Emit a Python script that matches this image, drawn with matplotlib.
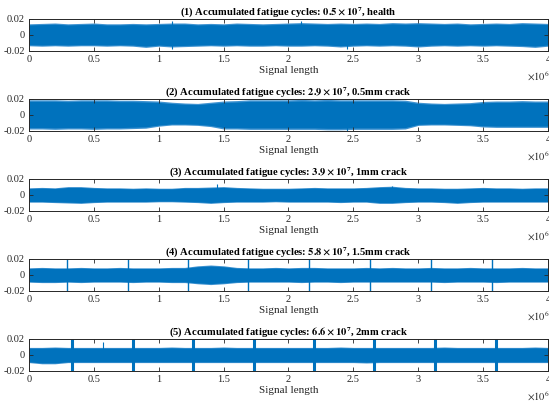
import numpy as np
import matplotlib
matplotlib.use("Agg")
import matplotlib.pyplot as plt

# ---------------- data ----------------
x_env = [i / 10 for i in range(41)]  # signal position, units of 1e6 samples

up1 = [0.014, 0.0145, 0.015, 0.014, 0.0145, 0.015, 0.014, 0.014, 0.0145, 0.014,
       0.0145, 0.015, 0.015, 0.014, 0.0145, 0.014, 0.015, 0.0145, 0.014, 0.0145,
       0.015, 0.0155, 0.015, 0.0145, 0.015, 0.0145, 0.015, 0.0145, 0.0155, 0.015,
       0.0155, 0.015, 0.0145, 0.015, 0.014, 0.0145, 0.015, 0.0145, 0.0155, 0.015, 0.0145]
lo1 = [-0.0135, -0.014, -0.0135, -0.014, -0.0135, -0.0135, -0.014, -0.0135, -0.014, -0.0155,
       -0.014, -0.015, -0.0145, -0.014, -0.0135, -0.014, -0.0135, -0.014, -0.014, -0.0135,
       -0.014, -0.014, -0.0135, -0.014, -0.015, -0.014, -0.0135, -0.014, -0.0135, -0.014,
       -0.015, -0.014, -0.0135, -0.014, -0.0135, -0.014, -0.0135, -0.014, -0.0145, -0.0155, -0.014]

up2 = [0.019, 0.019, 0.019, 0.0185, 0.019, 0.019, 0.019, 0.0185, 0.0185, 0.018,
       0.0175, 0.016, 0.015, 0.0145, 0.016, 0.0175, 0.018, 0.019, 0.019, 0.019,
       0.019, 0.0195, 0.019, 0.0195, 0.019, 0.019, 0.019, 0.019, 0.019, 0.0185,
       0.016, 0.015, 0.0145, 0.015, 0.0155, 0.017, 0.0175, 0.0175, 0.018, 0.0175, 0.0175]
lo2 = [-0.0175, -0.0175, -0.018, -0.0175, -0.0175, -0.018, -0.0175, -0.0175, -0.017, -0.0165,
       -0.014, -0.0125, -0.0125, -0.013, -0.0145, -0.0175, -0.0175, -0.018, -0.018, -0.018,
       -0.018, -0.018, -0.018, -0.0185, -0.0185, -0.018, -0.018, -0.018, -0.018, -0.0175,
       -0.013, -0.0125, -0.0125, -0.013, -0.0135, -0.015, -0.0155, -0.0155, -0.0155, -0.0155, -0.0155]

up3 = [0.009, 0.0095, 0.009, 0.0105, 0.0105, 0.0095, 0.009, 0.009, 0.0085, 0.009,
       0.0085, 0.0085, 0.0095, 0.0095, 0.01, 0.0105, 0.0095, 0.009, 0.0085, 0.0085,
       0.0085, 0.009, 0.0095, 0.009, 0.009, 0.009, 0.0095, 0.0105, 0.011, 0.0095,
       0.009, 0.009, 0.0085, 0.0085, 0.009, 0.0095, 0.009, 0.009, 0.0085, 0.009, 0.009]
lo3 = [-0.009, -0.009, -0.0095, -0.01, -0.0105, -0.0095, -0.009, -0.009, -0.009, -0.009,
       -0.0085, -0.0085, -0.009, -0.0095, -0.0105, -0.0095, -0.009, -0.009, -0.009, -0.0085,
       -0.009, -0.009, -0.009, -0.009, -0.0095, -0.009, -0.009, -0.0105, -0.0105, -0.0095,
       -0.009, -0.009, -0.0095, -0.0105, -0.0095, -0.009, -0.009, -0.009, -0.009, -0.009, -0.009]

up4 = [0.009, 0.0095, 0.009, 0.009, 0.0095, 0.009, 0.009, 0.0095, 0.009, 0.009,
       0.009, 0.0095, 0.0095, 0.0115, 0.0125, 0.0115, 0.0095, 0.009, 0.009, 0.0095,
       0.009, 0.0095, 0.0095, 0.009, 0.009, 0.009, 0.0095, 0.009, 0.0095, 0.009,
       0.009, 0.0095, 0.009, 0.009, 0.0095, 0.009, 0.009, 0.009, 0.0095, 0.009, 0.009]
lo4 = [-0.009, -0.0095, -0.0095, -0.009, -0.0095, -0.009, -0.009, -0.009, -0.0095, -0.009,
       -0.009, -0.0095, -0.0095, -0.011, -0.012, -0.011, -0.0095, -0.009, -0.009, -0.009,
       -0.009, -0.0095, -0.009, -0.009, -0.0095, -0.009, -0.009, -0.009, -0.009, -0.009,
       -0.009, -0.009, -0.0095, -0.009, -0.009, -0.009, -0.0095, -0.009, -0.009, -0.009, -0.009]

up5 = [0.0095, 0.0095, 0.01, 0.0095, 0.0095, 0.0095, 0.0095, 0.0095, 0.0095, 0.0095,
       0.0095, 0.01, 0.0095, 0.0095, 0.0095, 0.01, 0.0095, 0.0095, 0.0095, 0.0095,
       0.0095, 0.0095, 0.0095, 0.0095, 0.01, 0.0095, 0.0095, 0.0095, 0.0095, 0.0095,
       0.0095, 0.0095, 0.01, 0.0095, 0.0095, 0.0095, 0.0095, 0.0095, 0.0095, 0.01, 0.0095]
lo5 = [-0.0095, -0.011, -0.011, -0.0095, -0.0095, -0.0095, -0.0095, -0.0095, -0.0095, -0.0095,
       -0.0095, -0.0095, -0.0095, -0.0095, -0.0095, -0.0095, -0.0095, -0.0095, -0.0095, -0.0095,
       -0.0095, -0.0095, -0.0095, -0.0095, -0.0095, -0.0095, -0.01, -0.0095, -0.0095, -0.0095,
       -0.0095, -0.0095, -0.0095, -0.0095, -0.0095, -0.0095, -0.0095, -0.0095, -0.0095, -0.0095, -0.0095]

# narrow isolated peaks (position in 1e6, peak value)
peak_pos = [[1.1, 2.1, 1.1, 2.45], [2.45], [1.45, 2.8], [], [0.57]]
peak_val = [[0.018, 0.017, -0.017, -0.017], [-0.0198], [0.0137, 0.0118], [], [0.0167]]

spikes4 = [0.29, 0.76, 1.228, 1.69, 2.16, 2.628, 3.098, 3.566]
spikes5 = [0.329, 0.799, 1.262, 1.734, 2.199, 2.661, 3.129, 3.599]

titles = [
    r"(1) Accumulated fatigue cycles: $\mathbf{0.5\times10^{7}}$, health",
    r"(2) Accumulated fatigue cycles: $\mathbf{2.9\times10^{7}}$, 0.5mm crack",
    r"(3) Accumulated fatigue cycles: $\mathbf{3.9\times10^{7}}$, 1mm crack",
    r"(4) Accumulated fatigue cycles: $\mathbf{5.8\times10^{7}}$, 1.5mm crack",
    r"(5) Accumulated fatigue cycles: $\mathbf{6.6\times10^{7}}$, 2mm crack",
]
xticks = [0, 0.5, 1, 1.5, 2, 2.5, 3, 3.5, 4]
xtick_labels = ["0", "0.5", "1", "1.5", "2", "2.5", "3", "3.5", "4"]
yticks = [-0.02, 0, 0.02]
ytick_labels = ["-0.02", "0", "0.02"]

uppers = [up1, up2, up3, up4, up5]
lowers = [lo1, lo2, lo3, lo4, lo5]
spike_sets = [[], [], [], spikes4, spikes5]
spike_widths = [0, 0, 0, 1.0, 2.2]

# ---------------- style ----------------
plt.rcParams["font.family"] = ["Liberation Serif", "DejaVu Serif"]
plt.rcParams["mathtext.fontset"] = "stix"
BLUE = "#0072BD"
LIGHT = "#3f93d1"
TXT = "#262626"

W, H = 549, 404
fig = plt.figure(figsize=(W / 100, H / 100), dpi=100)

left_px, right_px = 29, 548
for k in range(5):
    top_px = 19 + 80 * k
    bot_px = 51 + 80 * k
    ax = fig.add_axes([left_px / W, 1 - bot_px / H, (right_px - left_px) / W, (bot_px - top_px) / H])
    xe = np.array(x_env) * 1e6
    up = np.array(uppers[k])
    lo = np.array(lowers[k])
    ax.fill_between(xe, lo, up, color=LIGHT, linewidth=0)
    ax.fill_between(xe, lo * 0.9, up * 0.9, color=BLUE, linewidth=0)
    if peak_pos[k]:
        ax.vlines(np.array(peak_pos[k]) * 1e6, 0, peak_val[k], color=BLUE, linewidth=0.8)
    if spike_sets[k]:
        ax.vlines(np.array(spike_sets[k]) * 1e6, -0.02, 0.02, color=BLUE, linewidth=spike_widths[k])
    ax.set_xlim(0, 4e6)
    ax.set_ylim(-0.02, 0.02)
    ax.set_xticks(np.array(xticks) * 1e6)
    ax.set_xticklabels(xtick_labels)
    ax.set_yticks(yticks)
    ax.set_yticklabels(ytick_labels)
    ax.tick_params(direction="in", top=True, right=True, length=3, width=0.6,
                   labelsize=7.5, pad=3, colors=TXT, labelcolor=TXT)
    for s in ax.spines.values():
        s.set_linewidth(0.7)
        s.set_color(TXT)
    ax.set_xlabel("Signal length", fontsize=8, labelpad=1.5, color=TXT)
    ax.set_title(titles[k], fontsize=7.6, fontweight="bold", pad=2.5)
    ax.annotate(r"$\times 10^{6}$", xy=(1.0, 0), xycoords="axes fraction",
                xytext=(-15, -23), textcoords="offset points", fontsize=7.5,
                ha="left", va="bottom", color=TXT)

fig.savefig("out.png", dpi=100)
